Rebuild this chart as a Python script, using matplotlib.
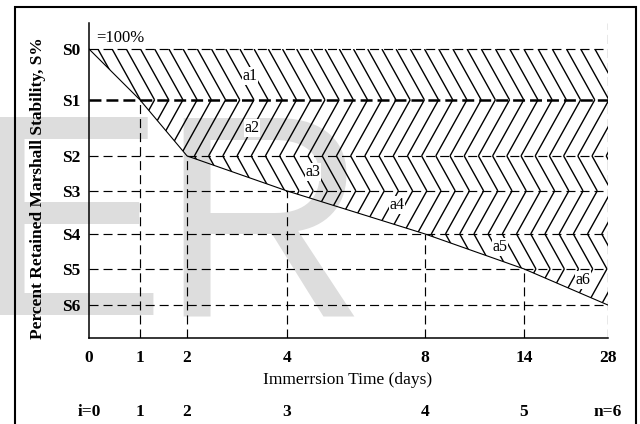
import matplotlib
matplotlib.use("Agg")
import matplotlib.pyplot as plt
import numpy as np
from matplotlib.collections import LineCollection
from matplotlib.patches import Polygon, Rectangle
import matplotlib.transforms as mtransforms

plt.rcParams['font.family'] = ['Liberation Serif', 'DejaVu Serif']
plt.rcParams['lines.scale_dashes'] = False

# ---- data ----
day_labels = ['0', '1', '2', '4', '8', '14', '28']
day_pos = [0.0, 2.75, 5.29, 10.68, 18.13, 23.47, 28.0]      # schematic axis positions
index_labels = ['i=0', '1', '2', '3', '4', '5', 'n=6']
s_labels = ['S0', 'S1', 'S2', 'S3', 'S4', 'S5', 'S6']
s_values = [100.0, 82.4, 63.0, 50.9, 36.0, 23.9, 11.4]
area_labels = ['a1', 'a2', 'a3', 'a4', 'a5', 'a6']
area_label_x = [8.69, 8.79, 12.08, 16.62, 22.17, 26.65]
area_label_y = [90.7, 72.7, 57.4, 46.0, 31.5, 20.1]

W, H = 640, 424
fig = plt.figure(figsize=(W / 100, H / 100), dpi=100)

# watermark
wm_kw = dict(fontsize=207, color='#dddddd', family='Liberation Sans',
             va='baseline', ha='left', zorder=-5)
fig.text(-27 / W, 1 - 315 / H, 'E', **wm_kw)
fig.text(159 / W, 1 - 315 / H, 'R', **wm_kw)

# outer frame
fig.add_artist(Rectangle((15 / W, -0.1), (636 - 15) / W, (1 - 7 / H) + 0.1,
                         transform=fig.transFigure, fill=False,
                         edgecolor='black', lw=1.5, zorder=10))

ax_l, ax_b, ax_w, ax_h = 89, 424 - 338, 519, 315
ax = fig.add_axes([ax_l / W, ax_b / H, ax_w / W, ax_h / H])
ax.patch.set_alpha(0)
xmax, ymax = 28.0, 109.0
ax.set_xlim(0, xmax)
ax.set_ylim(0, ymax)
for s in ['top', 'right']:
    ax.spines[s].set_visible(False)
ax.spines['left'].set_linewidth(1.1)
ax.spines['bottom'].set_linewidth(1.1)

ax.set_xticks(day_pos)
ax.set_xticklabels(day_labels, fontsize=12.5, fontweight='bold')
ax.set_yticks(s_values)
ax.set_yticklabels(s_labels, fontsize=12.5, fontweight='bold')
ax.tick_params(axis='x', length=0, pad=9)
ax.tick_params(axis='y', length=0, pad=6.5)

thin = dict(color='black', lw=0.85, linestyle=(0, (6.5, 3.6)))
thick = dict(color='black', lw=1.8, linestyle=(0, (8.6, 3.6)))

# horizontal level lines
for i, s in enumerate(s_values):
    ax.plot([0, xmax], [s, s], **(thick if i == 1 else thin), zorder=3)
# vertical lines from axis up to curve
for i in range(1, len(day_pos) - 1):
    ax.plot([day_pos[i], day_pos[i]], [0, s_values[i]], **thin, zorder=3)
ax.plot([xmax, xmax], [0, ymax], **thin, zorder=3)

# curve
ax.plot(day_pos, s_values, color='black', lw=0.8, zorder=4)

# custom herringbone hatching
px_x = ax_w / xmax
px_y = ax_h / ymax
slope = 1.8          # pixel dy/dx of hatch lines
spacing = 14.2 / px_x
n = len(s_values) - 1
dxs = [(s_values[k] - s_values[k + 1]) * px_y / slope / px_x for k in range(n)]
offs = [0.0] * (n + 1)
offs[1] = 0.0
offs[0] = -dxs[0]
for k in range(1, n):
    sign = 1 if k % 2 == 0 else -1
    offs[k + 1] = offs[k] + sign * dxs[k]
phase = 12.73
for k in range(n):
    top, bot = s_values[k], s_values[k + 1]
    poly = Polygon([(day_pos[k], top), (xmax, top), (xmax, bot), (day_pos[k + 1], bot)],
                   closed=True, fill=False, lw=0, transform=ax.transData)
    ax.add_patch(poly)
    segs = []
    for j in range(-40, 60):
        xa = phase + j * spacing
        segs.append([(xa + offs[k], top), (xa + offs[k + 1], bot)])
    lc = LineCollection(segs, colors='black', linewidths=1.0, zorder=2)
    ax.add_collection(lc)
    lc.set_clip_path(poly)

# area labels
for t, x, y in zip(area_labels, area_label_x, area_label_y):
    ax.text(x, y, t, fontsize=11.5, ha='center', va='center', zorder=6,
            bbox=dict(facecolor='white', edgecolor='none', pad=0.5))

# =100%
ax.text(0.4, 1 - (38 - 23) / ax_h, '=100%',
        transform=mtransforms.blended_transform_factory(ax.transData, ax.transAxes),
        fontsize=12, ha='left', va='center')

# bottom index row
trans = mtransforms.blended_transform_factory(ax.transData, fig.transFigure)
for t, x in zip(index_labels, day_pos):
    ax.text(x, 1 - 412 / H, t, transform=trans, fontsize=12.5, fontweight='bold',
            ha='center', va='center', clip_on=False)

fig.text(348 / W, 1 - 380 / H, 'Immerrsion Time (days)', fontsize=12.5,
         ha='center', va='center')
fig.text(38 / W, 1 - 188 / H, 'Percent Retained Marshall Stability, S%', fontsize=12.5,
         fontweight='bold', rotation=90, ha='center', va='center')

fig.savefig('out.png', dpi=100)
